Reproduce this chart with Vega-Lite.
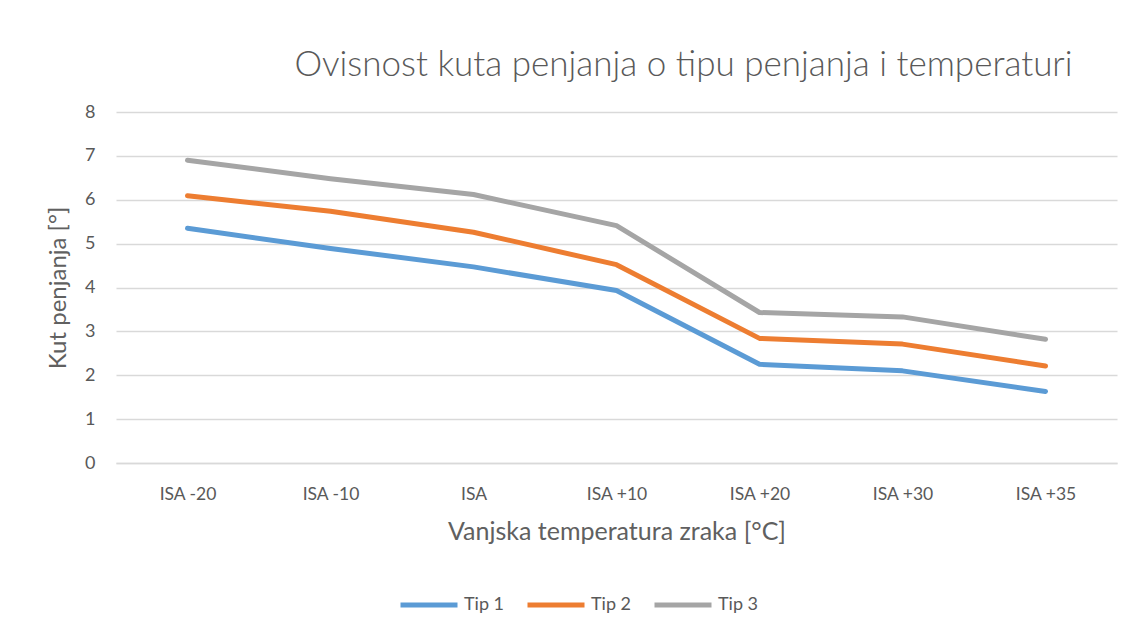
{
  "$schema": "https://vega.github.io/schema/vega-lite/v6.json",
  "autosize": "none",
  "width": 1001,
  "height": 351,
  "padding": {"left": 116, "top": 112, "right": 22, "bottom": 174},
  "background": "white",
  "config": {
    "font": "Lato",
    "view": {"stroke": null}
  },
  "title": {
    "text": "Ovisnost kuta penjanja o tipu penjanja i temperaturi",
    "font": "Lato",
    "fontSize": 35,
    "fontWeight": 300,
    "color": "#595959",
    "anchor": "middle",
    "dx": 67,
    "offset": 20
  },
  "data": {
    "values": [
      {"temp": "ISA -20", "tip": "Tip 1", "kut": 5.35},
      {"temp": "ISA -10", "tip": "Tip 1", "kut": 4.89},
      {"temp": "ISA", "tip": "Tip 1", "kut": 4.47},
      {"temp": "ISA +10", "tip": "Tip 1", "kut": 3.93},
      {"temp": "ISA +20", "tip": "Tip 1", "kut": 2.25},
      {"temp": "ISA +30", "tip": "Tip 1", "kut": 2.1},
      {"temp": "ISA +35", "tip": "Tip 1", "kut": 1.63},
      {"temp": "ISA -20", "tip": "Tip 2", "kut": 6.09},
      {"temp": "ISA -10", "tip": "Tip 2", "kut": 5.74},
      {"temp": "ISA", "tip": "Tip 2", "kut": 5.26},
      {"temp": "ISA +10", "tip": "Tip 2", "kut": 4.52},
      {"temp": "ISA +20", "tip": "Tip 2", "kut": 2.84},
      {"temp": "ISA +30", "tip": "Tip 2", "kut": 2.71},
      {"temp": "ISA +35", "tip": "Tip 2", "kut": 2.21},
      {"temp": "ISA -20", "tip": "Tip 3", "kut": 6.9},
      {"temp": "ISA -10", "tip": "Tip 3", "kut": 6.48},
      {"temp": "ISA", "tip": "Tip 3", "kut": 6.12},
      {"temp": "ISA +10", "tip": "Tip 3", "kut": 5.41},
      {"temp": "ISA +20", "tip": "Tip 3", "kut": 3.43},
      {"temp": "ISA +30", "tip": "Tip 3", "kut": 3.33},
      {"temp": "ISA +35", "tip": "Tip 3", "kut": 2.82}
    ]
  },
  "mark": {"type": "line", "strokeWidth": 5, "strokeCap": "round", "strokeJoin": "round"},
  "encoding": {
    "x": {
      "field": "temp",
      "type": "ordinal",
      "sort": ["ISA -20", "ISA -10", "ISA", "ISA +10", "ISA +20", "ISA +30", "ISA +35"],
      "scale": {"type": "point", "padding": 0.5},
      "axis": {
        "title": "Vanjska temperatura zraka [°C]",
        "titleFont": "Lato",
        "titleFontSize": 25,
        "titleFontWeight": "normal",
        "titleColor": "#606060",
        "titlePadding": 17,
        "labelFont": "Lato",
        "labelFontSize": 17.5,
        "labelColor": "#595959",
        "labelAngle": 0,
        "labelPadding": 22,
        "ticks": false,
        "domain": true,
        "domainColor": "#d9d9d9",
        "domainWidth": 1.5,
        "grid": false
      }
    },
    "y": {
      "field": "kut",
      "type": "quantitative",
      "scale": {"domain": [0, 8], "nice": false},
      "axis": {
        "title": "Kut penjanja [°]",
        "titleFont": "Lato",
        "titleFontSize": 24,
        "titleFontWeight": "normal",
        "titleColor": "#606060",
        "titlePadding": 14,
        "labelFont": "Lato",
        "labelFontSize": 18,
        "labelColor": "#595959",
        "labelPadding": 21,
        "labelOverlap": false,
        "values": [0, 1, 2, 3, 4, 5, 6, 7, 8],
        "ticks": false,
        "domain": false,
        "grid": true,
        "gridColor": "#d9d9d9",
        "gridWidth": 1.5
      }
    },
    "color": {
      "field": "tip",
      "type": "nominal",
      "scale": {"domain": ["Tip 1", "Tip 2", "Tip 3"], "range": ["#5B9BD5", "#ED7D31", "#A5A5A5"]},
      "legend": {
        "title": null,
        "orient": "none",
        "direction": "horizontal",
        "legendX": 282,
        "legendY": 462,
        "symbolType": "stroke",
        "symbolSize": 3249,
        "symbolStrokeWidth": 5,
        "labelFont": "Lato",
        "labelFontSize": 18,
        "labelColor": "#595959",
        "labelOffset": 4,
        "columnPadding": 12
      }
    }
  }
}
